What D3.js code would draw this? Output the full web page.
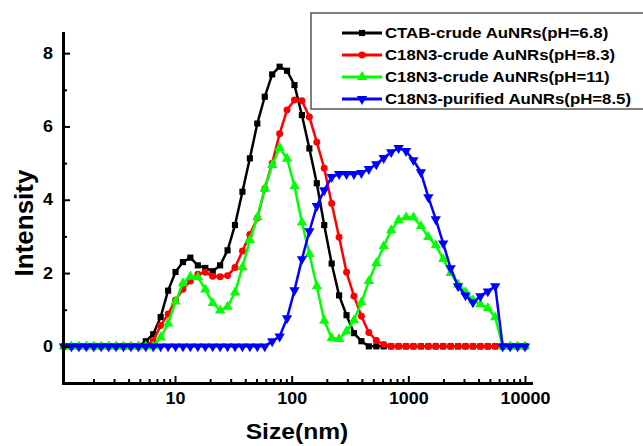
<!DOCTYPE html>
<html>
<head>
<meta charset="utf-8">
<script src="https://cdn.jsdelivr.net/npm/d3@7"></script>
<style>
    body { margin: 0; background: #fff; }
    svg { display: block; font-family: "Liberation Sans", Arial, sans-serif; }
</style>
</head>
<body>
<svg id="chart" width="643" height="446"></svg>
<script>
// DLS size bins (nm)
const sizes = [1.117, 1.294, 1.499, 1.736, 2.01, 2.328, 2.696, 3.122, 3.615, 4.187,
    4.849, 5.615, 6.503, 7.531, 8.721, 10.1, 11.7, 13.54, 15.69, 18.17,
    21.04, 24.36, 28.21, 32.67, 37.84, 43.82, 50.75, 58.77, 68.06, 78.82,
    91.28, 105.7, 122.4, 141.8, 164.2, 190.1, 220.2, 255, 295.3, 342,
    396.1, 458.7, 531.2, 615.1, 712.4, 825, 955.4, 1106, 1281, 1484,
    1718, 1990, 2305, 2669, 3091, 3580, 4145, 4801, 5560, 6439,
    7456, 8635, 10000];

const ctabCrude = [0, 0, 0, 0, 0, 0, 0, 0, 0, 0,
    0, 0.14, 0.33, 0.8, 1.52, 2.03, 2.3, 2.42, 2.21, 2.14,
    2.05, 2.21, 2.62, 3.31, 4.22, 5.13, 6.08, 6.81, 7.42, 7.63,
    7.52, 7.13, 6.31, 5.4, 4.45, 3.31, 2.26, 1.39, 0.85, 0.36,
    0.14, 0, 0, 0, 0, 0, 0, 0, 0, 0,
    0, 0, 0, 0, 0, 0, 0, 0, 0, 0,
    0, 0, 0];

const c18Crude83 = [0, 0, 0, 0, 0, 0, 0, 0, 0, 0,
    0, 0, 0.15, 0.57, 0.88, 1.26, 1.56, 1.78, 1.97, 2.02,
    1.91, 1.9, 1.93, 2.15, 2.6, 3.05, 3.5, 4.3, 5.0, 5.8,
    6.45, 6.72, 6.7, 6.26, 5.57, 4.86, 3.9, 2.98, 2.02, 1.37,
    0.82, 0.38, 0.16, 0.05, 0, 0, 0, 0, 0, 0,
    0, 0, 0, 0, 0, 0, 0, 0, 0, 0,
    0, 0, 0];

const c18Crude11 = [0, 0, 0, 0, 0, 0, 0, 0, 0, 0,
    0, 0, 0, 0.24, 0.62, 1.22, 1.72, 1.9, 1.89, 1.55,
    1.18, 0.98, 1.08, 1.47, 2.16, 2.9, 3.52, 4.3, 4.95, 5.42,
    5.12, 4.37, 3.38, 2.52, 1.64, 0.7, 0.22, 0.2, 0.41, 0.71,
    1.2, 1.78, 2.27, 2.73, 3.17, 3.44, 3.52, 3.52, 3.28, 2.98,
    2.76, 2.38, 2.0, 1.69, 1.48, 1.26, 1.15, 1.04, 0.79, 0,
    0, 0, 0];

const c18Purified = [0, 0, 0, 0, 0, 0, 0, 0, 0, 0,
    0, 0, 0, 0, 0, 0, 0, 0, 0, 0,
    0, 0, 0, 0, 0, 0, 0, 0, 0.14, 0.27,
    0.77, 1.53, 2.38, 3.14, 3.83, 4.26, 4.62, 4.7, 4.7, 4.7,
    4.73, 4.84, 4.97, 5.14, 5.3, 5.41, 5.33, 5.08, 4.75, 4.07,
    3.47, 2.81, 2.13, 1.64, 1.39, 1.2, 1.37, 1.5, 1.64, 0,
    0, 0, 0];

const seriesNames = ['CTAB-crude AuNRs(pH=6.8)', 'C18N3-crude AuNRs(pH=8.3)',
    'C18N3-crude AuNRs(pH=11)', 'C18N3-purified AuNRs(pH=8.5)'];
const seriesColors = ['#000000', '#ff0000', '#00ff00', '#0000ff'];
const seriesSymbols = ['square', 'circle', 'up', 'down'];

const xTicks = [10, 100, 1000, 10000];
const yTicks = [0, 2, 4, 6, 8];
const yMinorTicks = [1, 3, 5, 7];

const series = [ctabCrude, c18Crude83, c18Crude11, c18Purified].map((vals, i) => ({
    name: seriesNames[i],
    color: seriesColors[i],
    symbol: seriesSymbols[i],
    points: vals.map((v, j) => ({ x: sizes[j], y: v })),
}));

// the source picture is a little wider than tall, so text is stretched
const stretch = 1.12;

const svg = d3.select('#chart');

const x = d3.scaleLog()
    .domain([1.096, 11260])
    .range([63, 531]);

const y = d3.scaleLinear()
    .domain([-1, 8.55])
    .range([383, 33]);

function symbolPath(kind) {
    if (kind === 'square') return d3.symbol(d3.symbolSquare, 38)();
    if (kind === 'circle') return d3.symbol(d3.symbolCircle, 38)();
    return d3.symbol(d3.symbolTriangle, 46)();
}

function drawMarker(g, kind, color) {
    g.append('path')
        .attr('d', symbolPath(kind))
        .attr('transform', kind === 'down' ? 'rotate(180)' : null)
        .attr('fill', color);
}

// series
const line = d3.line()
    .x(d => x(d.x))
    .y(d => y(d.y));

const plot = svg.append('g').attr('class', 'plot');

series.forEach(s => {
    const g = plot.append('g').attr('class', 'series');
    g.append('path')
        .datum(s.points)
        .attr('d', line)
        .attr('fill', 'none')
        .attr('stroke', s.color)
        .attr('stroke-width', 2.5)
        .attr('stroke-linejoin', 'round');
    g.selectAll('.pt')
        .data(s.points)
        .enter().append('g')
        .attr('class', 'pt')
        .attr('transform', d => `translate(${x(d.x)},${y(d.y)})`)
        .each(function () { drawMarker(d3.select(this), s.symbol, s.color); });
});

// axes
const xMinor = [];
[1, 10, 100, 1000].forEach(dec => {
    for (let k = 2; k <= 9; k++) xMinor.push(dec * k);
});

svg.append('g')
    .attr('class', 'axis axis--x')
    .attr('transform', `translate(0,${y.range()[0]})`)
    .call(d3.axisBottom(x)
        .tickValues(xTicks)
        .tickFormat(d3.format('d'))
        .tickSizeInner(-7)
        .tickSizeOuter(0)
        .tickPadding(10));

svg.append('g')
    .attr('class', 'axis axis--x-minor')
    .attr('transform', `translate(0,${y.range()[0]})`)
    .call(d3.axisBottom(x)
        .tickValues(xMinor.filter(v => v > x.domain()[0]))
        .tickFormat('')
        .tickSizeInner(-4)
        .tickSizeOuter(0))
    .select('.domain').remove();

svg.append('g')
    .attr('class', 'axis axis--y')
    .attr('transform', `translate(${x.range()[0]},0)`)
    .call(d3.axisLeft(y)
        .tickValues(yTicks)
        .tickFormat(d3.format('d'))
        .tickSizeInner(-7)
        .tickSizeOuter(0)
        .tickPadding(9));

svg.append('g')
    .attr('class', 'axis axis--y-minor')
    .attr('transform', `translate(${x.range()[0]},0)`)
    .call(d3.axisLeft(y)
        .tickValues(yMinorTicks)
        .tickFormat('')
        .tickSizeInner(-4)
        .tickSizeOuter(0))
    .select('.domain').remove();

svg.selectAll('.axis .domain')
    .attr('stroke', '#000')
    .attr('stroke-width', 3)
    .attr('stroke-linecap', 'square');

svg.selectAll('.axis .tick line')
    .attr('stroke', '#000')
    .attr('stroke-width', 2);

svg.selectAll('.axis .tick text')
    .attr('fill', '#000')
    .attr('transform', `scale(${stretch},1)`)
    .style('font-size', '16px')
    .style('font-weight', 'bold')
    .style('font-family', '"Liberation Sans", Arial, sans-serif');

// axis titles
svg.append('text')
    .attr('transform', 'translate(33,223) rotate(-90)')
    .attr('text-anchor', 'middle')
    .style('font-size', '26px')
    .style('font-weight', 'bold')
    .text('Intensity');

svg.append('g')
    .attr('transform', `translate(297,439) scale(${stretch},1)`)
    .append('text')
    .attr('text-anchor', 'middle')
    .style('font-size', '22px')
    .style('font-weight', 'bold')
    .text('Size(nm)');

// legend
const legend = svg.append('g').attr('class', 'legend');

legend.append('rect')
    .attr('x', 311)
    .attr('y', 13)
    .attr('width', 340)
    .attr('height', 96)
    .attr('fill', '#fff')
    .attr('stroke', '#555')
    .attr('stroke-width', 1.5);

const legendItem = legend.selectAll('.legend-item')
    .data(series)
    .enter().append('g')
    .attr('class', 'legend-item')
    .attr('transform', (d, i) => `translate(342,${33 + i * 22})`);

legendItem.append('line')
    .attr('x1', 0)
    .attr('x2', 40)
    .attr('stroke', d => d.color)
    .attr('stroke-width', 3);

legendItem.append('g')
    .attr('transform', 'translate(20,0)')
    .each(function (d) { drawMarker(d3.select(this), d.symbol, d.color); });

legendItem.append('g')
    .attr('transform', `translate(43,0) scale(${stretch},1)`)
    .append('text')
    .attr('dy', '0.35em')
    .style('font-size', '15px')
    .style('font-weight', 'bold')
    .text(d => d.name);
</script>
</body>
</html>
